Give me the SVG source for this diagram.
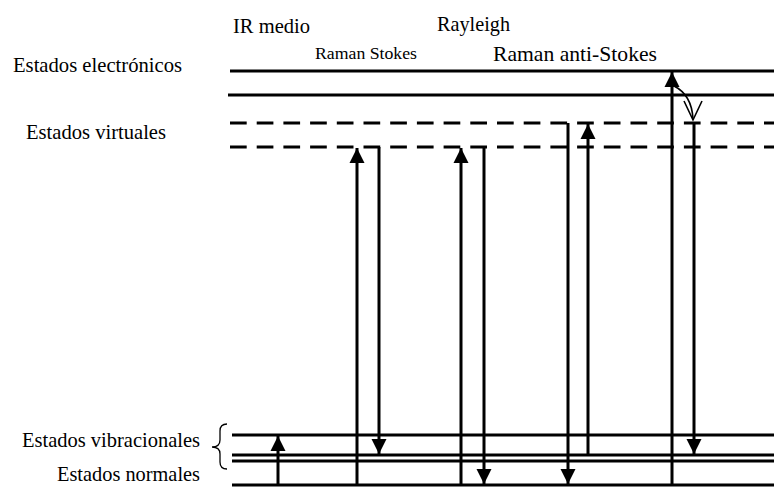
<svg xmlns="http://www.w3.org/2000/svg" width="774" height="487" viewBox="0 0 774 487">
<style>
  .lbl { font-family: "Liberation Serif", "DejaVu Serif", "Times New Roman", serif; font-size: 21px; fill: #000; }
  .small { font-size: 17px; }
  .lvl { stroke: #000; stroke-width: 3; fill: none; }
  .dash { stroke-dasharray: 16.7 10; }
  .arr { stroke: #000; stroke-width: 3; fill: none; marker-end: url(#head); }
  .thin { stroke: #000; stroke-width: 1.6; fill: none; }
</style>
<defs>
  <marker id="head" markerUnits="userSpaceOnUse" markerWidth="16" markerHeight="16" viewBox="0 0 16 16" refX="15" refY="8" orient="auto">
    <path d="M0,0.5 L15,8 L0,15.5 Z" fill="#000"/>
  </marker>
</defs>
<rect width="774" height="487" fill="#fff"/>

<g id="labels" font-family="Liberation Serif, DejaVu Serif, serif">
  <text class="lbl" x="13" y="72" textLength="169" lengthAdjust="spacingAndGlyphs">Estados electrónicos</text>
  <text class="lbl" x="26" y="139" textLength="140" lengthAdjust="spacingAndGlyphs">Estados virtuales</text>
  <text class="lbl" x="22" y="447" textLength="178" lengthAdjust="spacingAndGlyphs">Estados vibracionales</text>
  <text class="lbl" x="57" y="481" textLength="143" lengthAdjust="spacingAndGlyphs">Estados normales</text>
  <text class="lbl" x="233" y="33" textLength="77" lengthAdjust="spacingAndGlyphs">IR medio</text>
  <text class="lbl" x="437" y="31" textLength="73" lengthAdjust="spacingAndGlyphs">Rayleigh</text>
  <text class="lbl small" x="315" y="59" textLength="102" lengthAdjust="spacingAndGlyphs">Raman Stokes</text>
  <text class="lbl" x="493" y="61" textLength="164" lengthAdjust="spacingAndGlyphs" style="font-size:21.5px">Raman anti-Stokes</text>
</g>

<g id="electronic-levels">
  <line class="lvl" x1="230" y1="71" x2="774" y2="71"/>
  <line class="lvl" x1="228" y1="95" x2="774" y2="95"/>
</g>
<g id="virtual-levels">
  <line class="lvl dash" x1="230" y1="123" x2="774" y2="123"/>
  <line class="lvl dash" x1="230" y1="147" x2="774" y2="147"/>
</g>
<g id="vibrational-levels">
  <line class="lvl" x1="232" y1="435" x2="774" y2="435"/>
  <line class="lvl" x1="232" y1="455" x2="774" y2="455"/>
  <line class="lvl" x1="232" y1="461" x2="774" y2="461"/>
  <path class="thin" d="M227,424 Q220,424 220,431 L220,440 Q220,447 212,447 Q220,447 220,454 L220,462 Q220,469 227,469" style="stroke-width:1.3"/>
</g>
<g id="ground-level">
  <line class="lvl" x1="232" y1="485" x2="774" y2="485"/>
</g>

<g id="connectors">
  <line class="arr" x1="278" y1="485" x2="278" y2="436"/>
  <line class="arr" x1="357" y1="485" x2="357" y2="148"/>
  <line class="arr" x1="379" y1="147" x2="379" y2="454"/>
  <line class="arr" x1="461" y1="485" x2="461" y2="148"/>
  <line class="arr" x1="484" y1="147" x2="484" y2="484"/>
  <line class="arr" x1="568" y1="123" x2="568" y2="484"/>
  <line class="arr" x1="588" y1="455" x2="588" y2="124"/>
  <line class="arr" x1="672" y1="485" x2="672" y2="72"/>
  <line class="arr" x1="694" y1="123" x2="694" y2="454"/>
  <path class="thin" d="M674,86 C684,91 692,100 693,119"/>
  <polyline class="thin" points="684,101 693,120 702,101"/>
</g>
</svg>
